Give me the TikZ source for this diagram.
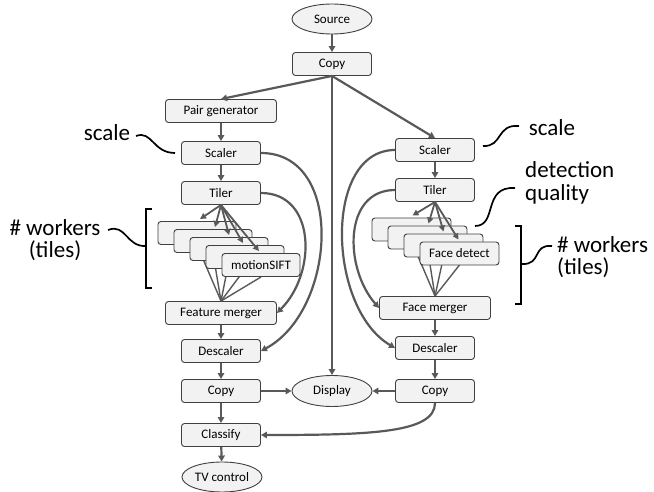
\documentclass[tikz,border=0pt]{standalone}
\usepackage{fontspec}
\setmainfont{Carlito}
\usetikzlibrary{arrows.meta,shapes.geometric}
\definecolor{edgec}{HTML}{595959}
\definecolor{boxfill}{HTML}{F2F2F2}
\definecolor{boxdraw}{HTML}{404040}
\tikzset{
  box/.style={draw=boxdraw, fill=boxfill, line width=0.9pt, rounded corners=3pt,
    minimum width=79pt, minimum height=23pt, inner sep=0pt,
    font=\fontsize{13}{15}\selectfont},
  widebox/.style={box, minimum width=111pt},
  oval/.style={draw=boxdraw, fill=boxfill, line width=0.9pt, ellipse,
    minimum width=80pt, minimum height=30pt, inner sep=0pt,
    font=\fontsize{13}{15}\selectfont},
  edge/.style={draw=edgec, line width=2.2pt, -{Triangle[length=6pt,width=6.5pt]}},
  plain/.style={draw=edgec, line width=1.4pt},
  tipedge/.style={draw=edgec, line width=1.8pt, -{Triangle[length=6pt,width=6pt]}},
  squig/.style={draw=black, line width=1.7pt},
  lbl/.style={font=\fontsize{23}{22.5}\selectfont, inner sep=0pt},
}
\begin{document}
\begin{tikzpicture}[x=1pt,y=-1pt]
\useasboundingbox (0,0) rectangle (654,492);
% main nodes
\node[oval] (src) at (332,19) {Source};
\node[box] (cp) at (332,64) {Copy};
\node[widebox] (pg) at (221,111) {Pair generator};
\node[box] (sl) at (221,153) {Scaler};
\node[box] (tl) at (221,193) {Tiler};
\node[widebox] (fm) at (221,313) {Feature merger};
\node[box] (dl) at (221,351) {Descaler};
\node[box] (cl) at (221,391) {Copy};
\node[box] (cls) at (221,435) {Classify};
\node[oval] (tv) at (222,477) {TV control};
\node[oval, minimum height=31pt] (disp) at (332,391) {Display};
\node[box] (sr) at (435,150) {Scaler};
\node[box] (tr) at (435,190) {Tiler};
\node[widebox] (fmr) at (435,308) {Face merger};
\node[box] (dr) at (435,348) {Descaler};
\node[box] (cr) at (435,391) {Copy};

% worker lines to mergers (behind workers)
\foreach \i in {0,...,4} {
  \coordinate (lw\i) at ({197+16*\i},{245+8*\i});
  \draw[plain] (lw\i) -- (fm.north);
}
\foreach \j in {0,...,3} {
  \coordinate (rw\j) at ({411.5+16*\j},{241+8*\j});
  \draw[plain] (rw\j) -- (fmr.north);
}
% left workers
\node[box, minimum width=78pt] (w0) at (197,233) {};
\node[box, minimum width=78pt] (w1) at (213,241) {};
\node[box, minimum width=78pt] (w2) at (229,249) {};
\node[box, minimum width=78pt] (w3) at (245,257) {};
\node[box, minimum width=78pt] (w4) at (261,265) {motionSIFT};
% right workers
\node[box] (f0) at (411.5,229.5) {};
\node[box] (f1) at (427.5,237.5) {};
\node[box] (f2) at (443.5,245.5) {};
\node[box] (f3) at (459.5,253.5) {Face detect};
% tiler fan-out arrows (on top)
\foreach \n/\dx in {w0/3,w1/2,w2/0,w3/-2,w4/-2} \draw[tipedge] (tl.south) -- ([xshift=\dx pt, yshift=2pt]\n.north);
\foreach \n/\dx in {f0/1,f1/1,f2/0,f3/-1} \draw[tipedge] (tr.south) -- ([xshift=\dx pt, yshift=2pt]\n.north);

% straight edges
\draw[edge] (src) -- (cp);
\draw[edge] (cp.south) -- (pg.north);
\draw[edge] (cp.south) -- (disp.north);
\draw[edge] (cp.south) -- (sr.north);
\draw[edge] (pg) -- (sl);
\draw[edge] (sl) -- (tl);
\draw[edge] (fm) -- (dl);
\draw[edge] (dl) -- (cl);
\draw[edge] (cl) -- (cls);
\draw[edge] (cls) -- (tv);
\draw[edge] (cl) -- (disp);
\draw[edge] (sr) -- (tr);
\draw[edge] (fmr) -- (dr);
\draw[edge] (dr) -- (cr);
\draw[edge] (cr) -- (disp);
% curved edges
\draw[edge] (sl.east) .. controls +(85,0) and +(75,-40) .. (dl.east);
\draw[edge] (tl.east) .. controls +(55,0) and +(40,-40) .. (fm.east);
\draw[edge] (sr.west) .. controls +(-72,0) and +(-68,-40) .. (dr.west);
\draw[edge] (tr.west) .. controls +(-52,0) and +(-35,-40) .. (fmr.west);
\draw[edge] (cr.south) .. controls +(0,30) and +(110,0) .. (cls.east);

% labels
\node[lbl] (lscale) at (107,133) {scale};
\node[lbl, align=center] (lwork) at (55,240) {\# workers\\(tiles)};
\node[lbl] (rscale) at (552,128) {scale};
\node[lbl, align=left, anchor=west] (rdet) at (525,183) {detection\\quality};
\node[lbl, align=left, anchor=west] (rwork) at (557,257) {\# workers\\(tiles)};
% squiggles
\coordinate (q1a) at (136,136); \coordinate (q1b) at (175,153);
\draw[squig] (q1a) .. controls (152,130) and (153,153) .. (q1b);
\coordinate (q2a) at (108,230); \coordinate (q2b) at (146,246);
\draw[squig] (q2a) .. controls (126,223) and (126,247) .. (q2b);
\coordinate (q3a) at (483,146); \coordinate (q3b) at (519,126);
\draw[squig] (q3a) .. controls (503,147) and (496,124) .. (q3b);
\coordinate (q4a) at (475,226); \coordinate (q4b) at (515,188);
\draw[squig] (q4a) .. controls (498,226) and (482,186) .. (q4b);
\coordinate (q5a) at (522,264); \coordinate (q5b) at (552,246);
\draw[squig] (q5a) .. controls (542,265) and (532,244) .. (q5b);
% brackets
\coordinate (b1t) at (152,209); \coordinate (b1b) at (152,288);
\draw[black, line width=1.8pt] (b1t) -- ++(-6,0) |- (b1b);
\coordinate (b2t) at (515,226); \coordinate (b2b) at (515,304);
\draw[black, line width=1.8pt] (b2t) -- ++(6,0) |- (b2b);
\end{tikzpicture}
\end{document}
